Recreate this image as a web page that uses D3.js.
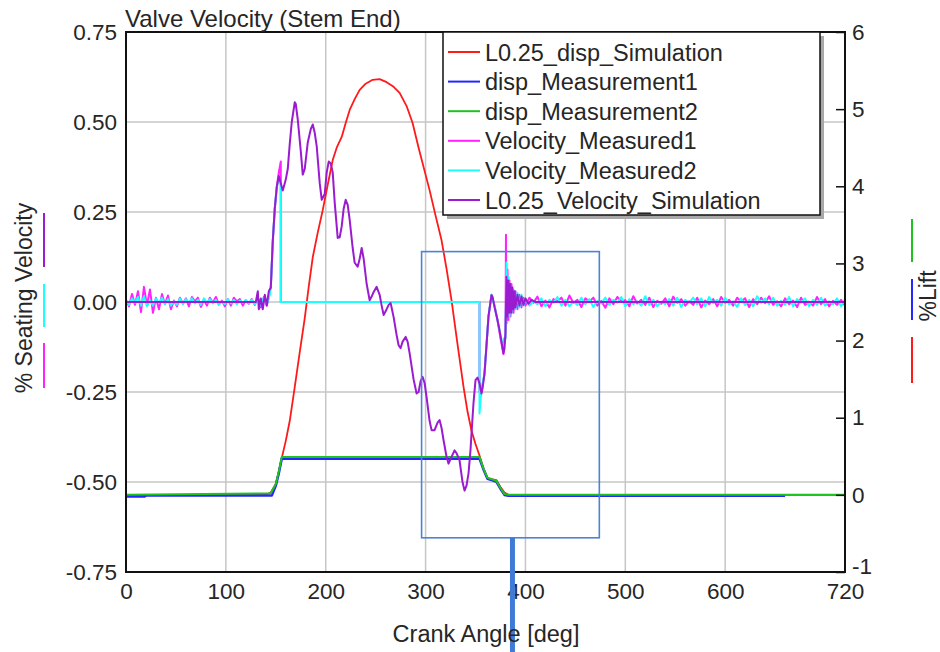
<!DOCTYPE html>
<html>
<head>
<meta charset="utf-8">
<script src="https://cdn.jsdelivr.net/npm/d3@7/dist/d3.min.js"></script>
<style>
  body { margin: 0; background: #fff; }
  svg text { font-family: "Liberation Sans", Arial, sans-serif; fill: #262626; }
</style>
</head>
<body>
<div id="chart"></div>
<script>
// ---- axis ticks ----
const xTicks = [0, 100, 200, 300, 400, 500, 600, 720];
const xGridTicks = [100, 200, 300, 400, 500, 600];
const velTicks = [0.75, 0.5, 0.25, 0, -0.25, -0.5, -0.75];
const velTickLabels = ['0.75', '0.50', '0.25', '0.00', '-0.25', '-0.50', '-0.75'];
const velGridTicks = [0.5, 0.25, 0, -0.25, -0.5];
const liftTicks = [6, 5, 4, 3, 2, 1, 0, -1];
const liftTickLabels = ['6', '5', '4', '3', '2', '1', '0', '-1'];

// ---- legend ----
const seriesNames = ['L0.25_disp_Simulation', 'disp_Measurement1', 'disp_Measurement2',
    'Velocity_Measured1', 'Velocity_Measured2', 'L0.25_Velocity_Simulation'];

// ---- lift series (right axis), [crank angle, lift] ----
const dispSimulation = [[0, 0], [140, 0], [145, 0.03], [150, 0.14], [153, 0.3], [156, 0.48], [160, 0.7],
    [164, 0.96], [169, 1.4], [174, 1.85], [179, 2.29], [183, 2.7], [187, 3.08], [192, 3.4], [197, 3.69],
    [202, 4.02], [207, 4.34], [211, 4.5], [216, 4.64], [220, 4.82], [224, 4.99], [229, 5.13], [234, 5.25],
    [240, 5.33], [247, 5.38], [254, 5.39], [261, 5.35], [268, 5.29], [274, 5.21], [281, 5.04], [287, 4.82],
    [293, 4.5], [299, 4.2], [304, 3.95], [310, 3.62], [316, 3.3], [321, 2.93], [326, 2.52], [332, 1.95],
    [338, 1.4], [342, 1.08], [346, 0.83], [350, 0.66], [354, 0.51], [358, 0.34], [362, 0.22], [367, 0.2],
    [371, 0.19], [375, 0.1], [379, 0.03], [383, 0], [720, 0]];

const dispMeasurement1 = [[0, -0.02], [19, -0.02], [20, -0.008], [146, -0.008], [150, 0.12], [153, 0.28],
    [156, 0.47], [354, 0.47], [358, 0.33], [362, 0.21], [367, 0.19], [371, 0.17], [375, 0.08], [379, 0],
    [383, -0.01], [660, -0.01]];

const dispMeasurement2 = [[0, 0], [145, 0.02], [150, 0.14], [153, 0.3], [156, 0.49], [354, 0.49],
    [358, 0.34], [362, 0.22], [367, 0.2], [371, 0.18], [375, 0.09], [379, 0.01], [383, 0], [720, 0]];

// ---- velocity series (left axis) ----
const velocitySimulation = [[0, 0], [130, 0], [132, 0.03], [133, -0.02], [135, 0.01], [137, -0.02],
    [139, 0.02], [141, -0.01], [143, 0.03], [145, 0.04], [147, 0.17], [149, 0.26], [151, 0.32], [153, 0.35],
    [155, 0.33], [157, 0.31], [160, 0.34], [162, 0.37], [164, 0.44], [166, 0.5], [169, 0.555], [170, 0.55],
    [172, 0.507], [175, 0.42], [177, 0.354], [179, 0.37], [182, 0.443], [185, 0.48], [187, 0.493], [189, 0.47],
    [191, 0.432], [194, 0.33], [196, 0.284], [199, 0.3], [201, 0.36], [203, 0.39], [205, 0.385], [207, 0.36],
    [209, 0.276], [212, 0.178], [214, 0.18], [216, 0.21], [218, 0.26], [220, 0.284], [222, 0.27], [224, 0.228],
    [227, 0.15], [229, 0.109], [232, 0.098], [234, 0.12], [236, 0.15], [238, 0.12], [241, 0.05], [244, 0.005],
    [246, 0.015], [248, 0.028], [251, 0.042], [254, 0.02], [256, -0.01], [258, -0.036], [261, -0.02],
    [263, -0.008], [265, -0.003], [268, -0.042], [271, -0.092], [273, -0.12], [275, -0.128], [277, -0.11],
    [280, -0.097], [282, -0.11], [284, -0.142], [288, -0.215], [291, -0.254], [293, -0.25], [295, -0.22],
    [297, -0.208], [299, -0.225], [301, -0.264], [304, -0.33], [306, -0.356], [309, -0.356], [312, -0.335],
    [314, -0.328], [316, -0.35], [318, -0.384], [321, -0.43], [323, -0.449], [326, -0.43], [329, -0.412],
    [331, -0.42], [334, -0.44], [337, -0.5], [339, -0.524], [341, -0.51], [343, -0.476], [345, -0.41],
    [346, -0.365], [348, -0.28], [350, -0.217], [352, -0.21], [354, -0.226], [356, -0.254], [357, -0.24],
    [359, -0.198], [361, -0.12], [363, -0.04], [365, 0], [366, 0.019], [367, 0.015], [369, -0.013],
    [372, -0.05], [374, -0.078], [376, -0.11], [378, -0.142], [379, -0.13], [380, -0.086], [381, 0.07],
    [382, -0.04], [383, 0.06], [384, -0.03], [385, 0.05], [386, -0.03], [387, 0.04], [388, -0.02], [389, 0.03],
    [390, -0.015], [392, 0.02], [394, -0.01], [396, 0.015], [398, -0.008], [400, 0.01], [403, -0.005],
    [406, 0.006], [410, 0], [720, 0]];

// measured velocity: sampled noise before the opening (every 3 deg from 0) and after seating (every 4 deg from 400)
const measured1Early = [0.005, -0.012, 0.022, -0.008, 0.03, -0.028, 0.042, -0.01, 0.035, -0.03,
    0.012, -0.02, 0.022, -0.006, 0.018, -0.02, 0.004, -0.012, 0.012, -0.004,
    0.01, -0.012, 0.014, 0.002, 0.012, -0.014, 0.006, -0.01, 0.012, -0.002,
    0.014, -0.006, 0.004, -0.012, 0.008, -0.01, 0.012, 0.002, 0.008, -0.01,
    0.004, -0.005, 0.008, -0.008, 0.012, -0.015, 0.014, -0.01];
const measured1Mid = [[144, 0.03], [145, 0.04], [147, 0.17], [149, 0.26], [151, 0.32], [153, 0.36], [155, 0.39],
    [155, 0], [354, 0], [354, -0.25], [356, -0.25], [359, -0.2], [361, -0.12], [363, -0.04], [366, 0.02],
    [369, -0.01], [372, -0.05], [375, -0.1], [378, -0.145], [379, -0.1], [380, -0.1], [380.5, 0.187],
    [381, -0.06], [382, 0.09], [383, -0.05], [384, 0.06], [385, -0.04], [386, 0.05], [388, -0.03], [390, 0.03],
    [392, -0.02], [394, 0.02], [396, -0.015], [398, 0.012]];
const measured1Late = [-0.01, 0.012, -0.002, 0.015, -0.012, 0.004, -0.015, 0.008, 0.002, 0.012,
    -0.01, 0.018, -0.002, 0.006, -0.014, 0.01, 0.001, 0.012, -0.01, 0.003,
    -0.016, 0.01, -0.006, 0.014, 0.002, 0.005, -0.012, 0.016, -0.004, 0.006,
    -0.008, 0.012, -0.014, 0.003, -0.005, 0.01, -0.012, 0.015, -0.002, 0.008,
    -0.01, 0.002, -0.008, 0.012, -0.015, 0.004, -0.006, 0.008, -0.012, 0.014,
    -0.002, 0.006, -0.01, 0.012, 0.001, 0.01, -0.014, 0.008, -0.006, 0.012,
    -0.003, 0.016, -0.008, 0.002, -0.012, 0.01, -0.006, 0.004, -0.014, 0.012,
    -0.008, 0.001, -0.01, 0.014, -0.006, 0.008, -0.012, 0.003, -0.008, 0.006, -0.01];

const measured2Early = [0.006, -0.008, 0.01, -0.002, 0.014, -0.01, 0.016, -0.012, 0.004, -0.01,
    0.01, -0.002, 0.012, -0.006, 0.008, -0.01, 0.002, -0.008, 0.01, -0.006,
    0.008, -0.001, 0.01, -0.004, 0.006, -0.008, 0.01, -0.002, 0.008, -0.004,
    0.006, -0.008, 0.001, -0.006, 0.008, -0.004, 0.006, -0.006, 0.004, -0.002,
    0.006, -0.004, 0.006, -0.006, 0.008, -0.01, 0.012, -0.008];
const measured2Mid = [[144, 0.02], [145, 0.04], [147, 0.17], [149, 0.26], [151, 0.32], [153, 0.34], [155, 0.33],
    [155, 0], [354, 0], [354, -0.31], [356, -0.24], [359, -0.2], [361, -0.12], [363, -0.04], [366, 0.02],
    [369, -0.01], [372, -0.05], [375, -0.09], [378, -0.13], [380, -0.1], [381, 0.11], [382, -0.03],
    [383, 0.07], [384, -0.04], [385, 0.05], [386, -0.03], [388, 0.035], [390, -0.02], [392, 0.025],
    [394, -0.015], [396, 0.02], [398, -0.01]];
const measured2Late = [0.008, -0.01, 0.002, -0.006, 0.01, -0.012, 0.006, -0.002, 0.014, -0.01,
    0.006, -0.012, 0.001, -0.008, 0.012, -0.006, 0.008, -0.014, 0.003, -0.004,
    0.012, -0.008, 0.006, -0.002, 0.014, -0.012, 0.008, -0.006, 0.002, -0.01,
    0.016, -0.008, 0.006, -0.012, 0.001, -0.006, 0.008, -0.01, 0.012, -0.014,
    0.006, -0.002, 0.012, -0.006, 0.01, -0.012, 0.014, -0.003, 0.006, -0.01,
    0.012, -0.006, 0.002, -0.014, 0.01, -0.008, 0.006, -0.012, 0.016, -0.002,
    0.01, -0.006, 0.012, -0.01, 0.003, -0.008, 0.014, -0.012, 0.008, -0.002,
    0.01, -0.012, 0.006, -0.008, 0.012, -0.01, 0.002, -0.006, 0.01, -0.012, 0.008];

// highlight box drawn over the screenshot, in data units [angle, velocity]
const highlightBox = [[296, 0.14], [474, -0.655]];
const highlightBarAngle = 387;

class ValveChart {

    constructor(_config) {
        this.config = {
            parentElement: _config.parentElement,
            containerWidth: 940,
            containerHeight: 652,
            margin: { top: 32, right: 95, bottom: 80, left: 126 }
        };
        this.colors = ['#ff1a1a', '#2626ff', '#1fc21f', '#ff22ff', '#1cffff', '#9b1bd0'];
        this.initVis();
    }

    initVis() {
        let vis = this;
        const m = vis.config.margin;
        vis.width = vis.config.containerWidth - m.left - m.right;
        vis.height = vis.config.containerHeight - m.top - m.bottom;

        vis.svg = d3.select(vis.config.parentElement).append('svg')
            .attr('width', vis.config.containerWidth)
            .attr('height', vis.config.containerHeight);

        vis.chart = vis.svg.append('g')
            .attr('transform', `translate(${m.left},${m.top})`);

        vis.xScale = d3.scaleLinear().domain([0, 720]).range([0, vis.width]);
        vis.yVel = d3.scaleLinear().domain([-0.75, 0.75]).range([vis.height, 0]);
        vis.yLift = d3.scaleLinear().domain([-1, 6]).range([vis.height, 0]);

        vis.svg.append('defs').append('clipPath').attr('id', 'plot-clip')
            .append('rect').attr('width', vis.width).attr('height', vis.height);

        vis.updateVis();
    }

    updateVis() {
        let vis = this;
        const pairs = (vals, start, step) => vals.map((v, i) => [start + i * step, v]);

        vis.velMeasured1 = [...pairs(measured1Early, 0, 3), ...measured1Mid, ...pairs(measured1Late, 400, 4)];
        vis.velMeasured2 = [...pairs(measured2Early, 0, 3), ...measured2Mid, ...pairs(measured2Late, 400, 4)];

        vis.liftLine = d3.line().x(d => vis.xScale(d[0])).y(d => vis.yLift(d[1]));
        vis.velLine = d3.line().x(d => vis.xScale(d[0])).y(d => vis.yVel(d[1]));

        vis.renderVis();
    }

    renderVis() {
        let vis = this;

        // grid
        vis.chart.append('g').selectAll('line').data(xGridTicks).join('line')
            .attr('x1', d => vis.xScale(d)).attr('x2', d => vis.xScale(d))
            .attr('y1', 0).attr('y2', vis.height)
            .attr('stroke', '#c6c6c6').attr('stroke-width', 1.5);
        vis.chart.append('g').selectAll('line').data(velGridTicks).join('line')
            .attr('x1', 0).attr('x2', vis.width)
            .attr('y1', d => vis.yVel(d)).attr('y2', d => vis.yVel(d))
            .attr('stroke', '#c6c6c6').attr('stroke-width', 1.5);

        // series
        const plot = vis.chart.append('g').attr('clip-path', 'url(#plot-clip)');
        const lines = [
            { data: dispSimulation, gen: vis.liftLine, c: 0, w: 1.8 },
            { data: dispMeasurement1, gen: vis.liftLine, c: 1, w: 2.6 },
            { data: dispMeasurement2, gen: vis.liftLine, c: 2, w: 2 },
            { data: vis.velMeasured1, gen: vis.velLine, c: 3, w: 2 },
            { data: vis.velMeasured2, gen: vis.velLine, c: 4, w: 2 },
            { data: velocitySimulation, gen: vis.velLine, c: 5, w: 2 }
        ];
        lines.forEach(s => {
            plot.append('path')
                .datum(s.data)
                .attr('fill', 'none')
                .attr('stroke', vis.colors[s.c])
                .attr('stroke-width', s.w)
                .attr('stroke-linejoin', 'round')
                .attr('d', s.gen);
        });

        // frame
        vis.chart.append('rect')
            .attr('width', vis.width).attr('height', vis.height)
            .attr('fill', 'none').attr('stroke', '#111').attr('stroke-width', 2);

        // left axis
        const yAxisL = d3.axisLeft(vis.yVel).tickValues(velTicks)
            .tickFormat((d, i) => velTickLabels[i]).tickSize(0).tickPadding(9);
        vis.chart.append('g').call(yAxisL).call(g => g.select('.domain').remove())
            .selectAll('text').style('font-size', '22.5px').attr('fill', '#262626');

        // right axis, short ticks pointing into the plot
        const yAxisR = d3.axisRight(vis.yLift).tickValues(liftTicks)
            .tickFormat((d, i) => liftTickLabels[i]).tickSize(0).tickPadding(7);
        const gR = vis.chart.append('g').attr('transform', `translate(${vis.width},0)`).call(yAxisR);
        gR.select('.domain').remove();
        gR.selectAll('text').style('font-size', '22.5px').attr('fill', '#262626');
        gR.selectAll('.tick').filter(d => d === -1).select('text').attr('dy', '0.05em');
        gR.selectAll('.tick').append('line').attr('class', 'inner')
            .attr('x1', -9).attr('x2', 0).attr('y1', 0).attr('y2', 0)
            .attr('stroke', '#111').attr('stroke-width', 1.5);

        // bottom axis
        const xAxis = d3.axisBottom(vis.xScale).tickValues(xTicks).tickSize(0).tickPadding(11);
        vis.chart.append('g').attr('transform', `translate(0,${vis.height})`).call(xAxis)
            .call(g => g.select('.domain').remove())
            .selectAll('text').style('font-size', '22.5px').attr('fill', '#262626');

        // titles
        vis.svg.append('text').attr('x', 125).attr('y', 27)
            .style('font-size', '24px').text('Valve Velocity (Stem End)');
        vis.svg.append('text').attr('text-anchor', 'middle')
            .attr('transform', `translate(486,642)`)
            .style('font-size', '23.5px').text('Crank Angle [deg]');
        vis.svg.append('text').attr('text-anchor', 'middle')
            .attr('transform', 'translate(32,298) rotate(-90)')
            .style('font-size', '23px').text('% Seating Velocity');
        vis.svg.append('text').attr('text-anchor', 'middle')
            .attr('transform', 'translate(936,296) rotate(-90)')
            .style('font-size', '23px').text('%Lift');

        // colour keys next to axis titles
        const keyL = [[5, 213, 267], [4, 284, 327], [3, 343, 388]];
        const keyR = [[2, 219, 262], [1, 279, 320], [0, 337, 383]];
        keyL.forEach(k => vis.svg.append('line').attr('x1', 44).attr('x2', 44).attr('y1', k[1]).attr('y2', k[2])
            .attr('stroke', vis.colors[k[0]]).attr('stroke-width', 2));
        keyR.forEach(k => vis.svg.append('line').attr('x1', 912).attr('x2', 912).attr('y1', k[1]).attr('y2', k[2])
            .attr('stroke', vis.colors[k[0]]).attr('stroke-width', 2));

        // legend
        const lg = vis.svg.append('g').attr('transform', 'translate(443,32)');
        lg.append('rect').attr('x', 4).attr('y', 4).attr('width', 377).attr('height', 183)
            .attr('fill', '#a8a8a8');
        lg.append('rect').attr('width', 377).attr('height', 183)
            .attr('fill', '#fff').attr('stroke', '#111').attr('stroke-width', 1.5);
        const rows = lg.selectAll('g.row').data(seriesNames).join('g')
            .attr('transform', (d, i) => `translate(0,${20 + i * 29.6})`);
        rows.append('line').attr('x1', 5).attr('x2', 37).attr('y1', 0).attr('y2', 0)
            .attr('stroke', (d, i) => vis.colors[i]).attr('stroke-width', 2);
        rows.append('text').attr('x', 42).attr('y', 8.5)
            .style('font-size', '23.5px').text(d => d);

        // blue highlight overlay
        const bx0 = vis.xScale(highlightBox[0][0]), bx1 = vis.xScale(highlightBox[1][0]);
        const by0 = vis.yVel(highlightBox[0][1]), by1 = vis.yVel(highlightBox[1][1]);
        vis.chart.append('rect').attr('x', bx0).attr('y', by0)
            .attr('width', bx1 - bx0).attr('height', by1 - by0)
            .attr('fill', 'none').attr('stroke', '#4a84d2').attr('stroke-width', 1.6);
        const barX = vis.xScale(highlightBarAngle);
        vis.chart.append('line').attr('x1', barX).attr('x2', barX)
            .attr('y1', by1).attr('y2', vis.config.containerHeight)
            .attr('stroke', '#3f7bd6').attr('stroke-width', 5);
    }
}

new ValveChart({ parentElement: '#chart' });
</script>
</body>
</html>
